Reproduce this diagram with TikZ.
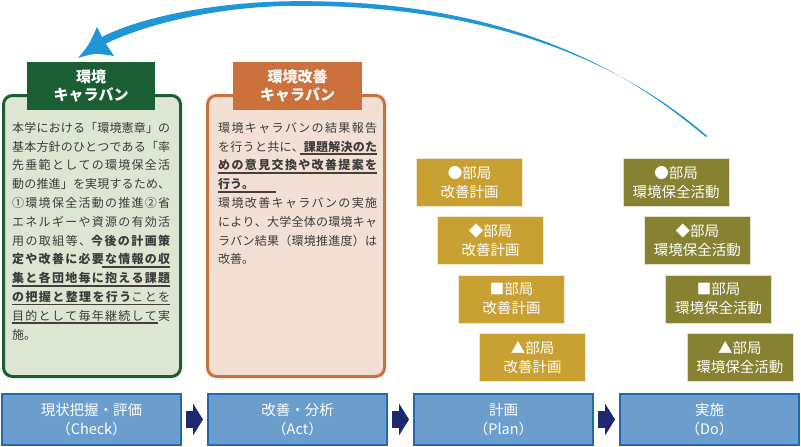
\documentclass[tikz,border=0pt]{standalone}
\usepackage{fontspec}
\setmainfont{Noto Sans CJK JP}
\usetikzlibrary{calc,positioning}

\definecolor{cvgreen}{RGB}{27,94,52}
\definecolor{cvgreenbg}{RGB}{221,230,211}
\definecolor{cvorange}{RGB}{204,112,60}
\definecolor{cvorangebg}{RGB}{243,223,212}
\definecolor{plangold}{RGB}{201,161,50}
\definecolor{doolive}{RGB}{134,130,50}
\definecolor{stepblue}{RGB}{107,157,205}
\definecolor{stepedge}{RGB}{36,104,176}
\definecolor{chevnavy}{RGB}{30,40,110}
\definecolor{arcblue}{RGB}{30,150,216}
\definecolor{bodygray}{RGB}{60,60,60}
\definecolor{ulgray}{RGB}{70,62,60}

% stretchable gaps between CJK characters, so the panel lines can be justified
\XeTeXinterchartokenstate=1
\newcount\cjkc
\def\cjkrange#1#2{\cjkc=#1 \loop\XeTeXcharclass\cjkc=7 \ifnum\cjkc<#2 \advance\cjkc by 1 \repeat}
\cjkrange{"2460}{"24FF}
\cjkrange{"3000}{"30FF}
\cjkrange{"4E00}{"9FFF}
\cjkrange{"FF00}{"FFEF}
\XeTeXinterchartoks 7 7 = {\hskip 0pt plus 2pt\relax}

\begin{document}
\begin{tikzpicture}[x=1pt,y=-1pt,
  panel/.style={draw,line width=3pt,rounded corners=9pt,minimum width=177pt,minimum height=281pt,inner sep=0pt},
  paneltitle/.style={text=white,font=\bfseries\fontsize{15}{18}\selectfont,align=center,minimum height=48pt,inner sep=0pt},
  paneltext/.style={anchor=north west,inner sep=0pt,text=bodygray,align=justify,font=\fontsize{12}{18.8}\selectfont},
  unitbox/.style={text=white,draw=white!75!#1,fill=#1,line width=0.6pt,minimum width=106pt,minimum height=48pt,inner sep=0pt,align=center,font=\fontsize{14.5}{19}\selectfont},
  stepbox/.style={fill=stepblue,draw=stepedge,line width=2pt,minimum width=179pt,minimum height=51pt,inner sep=0pt,text=white,align=center,font=\fontsize{14.5}{19}\selectfont},
  underline/.style={ulgray,line width=1.1pt}
]
\useasboundingbox (0,0) rectangle (801,447);

% caravan panels
\node[panel,draw=cvgreen,fill=cvgreenbg] (greenpanel) at (92,236) {};
\node[panel,draw=cvorange,fill=cvorangebg] (orangepanel) at (296,236) {};
\node[paneltitle,fill=cvgreen,minimum width=128pt] (greentitle) at (91,86) {環境\\キャラバン};
\node[paneltitle,fill=cvorange,minimum width=129pt] (orangetitle) at (297.5,86) {環境改善\\キャラバン};

\node[paneltext,text width=158pt] (greentext) at (12,122) {本学における「環境憲章」の\linebreak
基本方針のひとつである「率\linebreak
先垂範としての環境保全活\linebreak
動の推進」を実現するため、\linebreak
①環境保全活動の推進②省\linebreak
エネルギーや資源の有効活\linebreak
用の取組等、\textbf{今後の計画策\linebreak
定や改善に必要な情報の収\linebreak
集と各団地毎に抱える課題\linebreak
の把握と整理を行う}ことを\linebreak
目的として毎年継続して実\linebreak
施。};
\node[paneltext,text width=159pt] (orangetext) at (218,122) {環境キャラバンの結果報告\linebreak
を行うと共に、\textbf{課題解決のた\linebreak
めの意見交換や改善提案を\linebreak
行う。}\\
環境改善キャラバンの実施\linebreak
により、大学全体の環境キャ\linebreak
ラバン結果（環境推進度）は\linebreak
改善。};

% underlines
\draw[underline] (102,267) -- (170,267);
\draw[underline] (12,286) -- (170,286);
\draw[underline] (12,304.5) -- (170,304.5);
\draw[underline] (12,323) -- (158,323);
\draw[underline] (300,154) -- (377,154);
\draw[underline] (218,173) -- (377,173);
\draw[underline] (218,192) -- (276,192);

% department boxes
\foreach \mk [count=\i] in {●,◆,■,▲}{
  \node[unitbox=plangold] (plan\i) at ({469.5+21*(\i-1)},{182.5+58.2*(\i-1)}) {\mk 部局\\改善計画};
  \node[unitbox=doolive] (do\i) at ({676+21.3*(\i-1)},{182.5+58.2*(\i-1)}) {\mk 部局\\環境保全活動};
}

% cycle steps
\node[stepbox] (check) at (91.5,419.5) {現状把握・評価\\（Check）};
\node[stepbox,right=25pt of check] (act) {改善・分析\\（Act）};
\node[stepbox,right=25pt of act] (plan) {計画\\（Plan）};
\node[stepbox,right=25pt of plan] (do) {実施\\（Do）};

\foreach \a/\b in {check/act,act/plan,plan/do}
  \fill[chevnavy] ($(\a.east)!0.5!(\b.west)$) ++(-8.5,-8.3) -- ++(7,0) -- ++(0,-7.7) -- ++(10,16) -- ++(-10,16) -- ++(0,-7.7) -- ++(-7,0) -- cycle;

% feedback arc from Do back to the caravan
\coordinate (arcstart) at (706,137);
\coordinate (arctip) at (78,58);
\fill[arcblue] (arcstart) .. controls (665,104.5) and (550,0) .. (298,1.2)
  .. controls (220,1.2) and (140,16.5) .. (100,38)
  -- (104,44.5) .. controls (145,24) and (220,5.8) .. (298,5.8)
  .. controls (551,5) and (669,104) .. ([shift={(1.2,-1)}]arcstart) -- cycle;
\fill[arcblue] (arctip) .. controls (89,45) .. (97,27) -- (104,41) -- (114,56) .. controls (95,53) .. (arctip) -- cycle;

\end{tikzpicture}
\end{document}
